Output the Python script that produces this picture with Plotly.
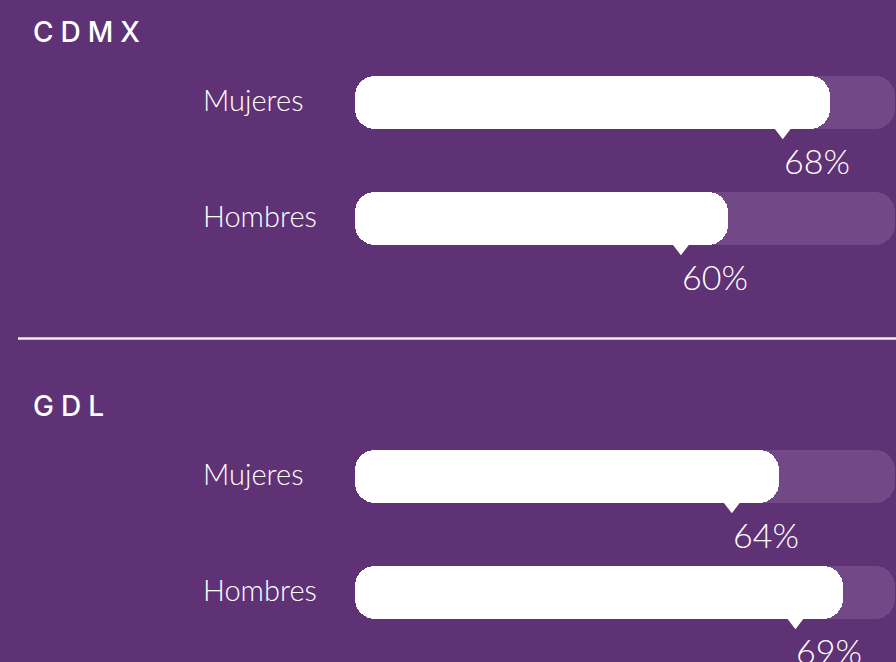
import plotly.graph_objects as go

# ---- data ----
cities = ["CDMX", "GDL"]
genders = ["Mujeres", "Hombres"]
values_cdmx = [68, 60]
values_gdl = [64, 69]
pct_labels_cdmx = ["68%", "60%"]
pct_labels_gdl = ["64%", "69%"]

# ---- style / layout constants ----
BG = "#5F3275"
TRACK = "#724986"
WHITE = "#FFFFFF"
FONT_LIGHT = "Lato"
FONT_TITLE = "Inter"
W, H = 896, 662
XMIN, XMAX = 2.8, 73.2       # visible value window of the axis
BASE = 30.7                  # value where bars start (axis baseline)
TRACK_END = 73.1
BAR_H = 53
RADIUS = 20
GROUP_FIRST_ROW = [102, 476]
ROW_GAP = 116
TRI_BACK = 3.7               # pointer position, in value units behind bar end
TRI_SIZE = 17
SEP_Y = 338.5

values = [values_cdmx, values_gdl]
pct_labels = [pct_labels_cdmx, pct_labels_gdl]

rows_y, rows_v, rows_lbl, rows_g = [], [], [], []
for gi, city in enumerate(cities):
    for ri, g in enumerate(genders):
        rows_y.append(GROUP_FIRST_ROW[gi] + ri * ROW_GAP)
        rows_v.append(values[gi][ri])
        rows_lbl.append(pct_labels[gi][ri])
        rows_g.append(g)

fig = go.Figure()

# background track
fig.add_trace(go.Bar(
    orientation="h", y=rows_y, base=[BASE] * len(rows_y),
    x=[TRACK_END - BASE] * len(rows_y),
    width=BAR_H, marker=dict(color=TRACK, cornerradius=RADIUS, line=dict(width=0)),
    hoverinfo="skip", showlegend=False))
# value bar
fig.add_trace(go.Bar(
    orientation="h", y=rows_y, base=[BASE] * len(rows_y),
    x=[v - BASE for v in rows_v],
    width=BAR_H, marker=dict(color=WHITE, cornerradius=RADIUS, line=dict(width=0)),
    hoverinfo="skip", showlegend=False))

# pointer triangles
r = TRI_SIZE / 2
fig.add_trace(go.Scatter(
    x=[v - TRI_BACK for v in rows_v],
    y=[y + BAR_H / 2 + r / 2 - 2 for y in rows_y],
    mode="markers",
    marker=dict(symbol="triangle-down", size=TRI_SIZE, color=WHITE, line=dict(width=0)),
    hoverinfo="skip", showlegend=False, cliponaxis=False))

annotations = []
for y, v, lbl, g in zip(rows_y, rows_v, rows_lbl, rows_g):
    annotations.append(dict(
        x=v - TRI_BACK, y=y + 58, xref="x", yref="y", text=lbl, showarrow=False,
        xanchor="left", yanchor="middle", xshift=-1,
        font=dict(family=FONT_LIGHT, size=34, color=WHITE, weight=300)))
    annotations.append(dict(
        x=203 / W, y=y - 3, xref="paper", yref="y", text=g, showarrow=False,
        xanchor="left", yanchor="middle", xshift=-2,
        font=dict(family=FONT_LIGHT, size=29, color=WHITE, weight=300)))

for gi, city in enumerate(cities):
    annotations.append(dict(
        x=33 / W, y=GROUP_FIRST_ROW[gi] - 70, xref="paper", yref="y",
        text="\u2005".join(city), showarrow=False,
        xanchor="left", yanchor="middle", xshift=-2,
        font=dict(family=FONT_TITLE, size=28, color=WHITE, weight=500)))

fig.update_layout(
    width=W, height=H,
    margin=dict(l=0, r=0, t=0, b=0),
    paper_bgcolor=BG, plot_bgcolor=BG,
    barmode="overlay", bargap=0,
    xaxis=dict(range=[XMIN, XMAX], visible=False, fixedrange=True),
    yaxis=dict(range=[H, 0], visible=False, fixedrange=True),
    annotations=annotations,
    shapes=[dict(type="line", xref="paper", yref="y", x0=18 / W, x1=1,
                 y0=SEP_Y, y1=SEP_Y, line=dict(color="#F2EEF4", width=2.5))],
)

fig.write_html("out.html", config={"displayModeBar": False},
               post_script="document.body.style.margin='0';document.body.style.background='" + BG + "';")
